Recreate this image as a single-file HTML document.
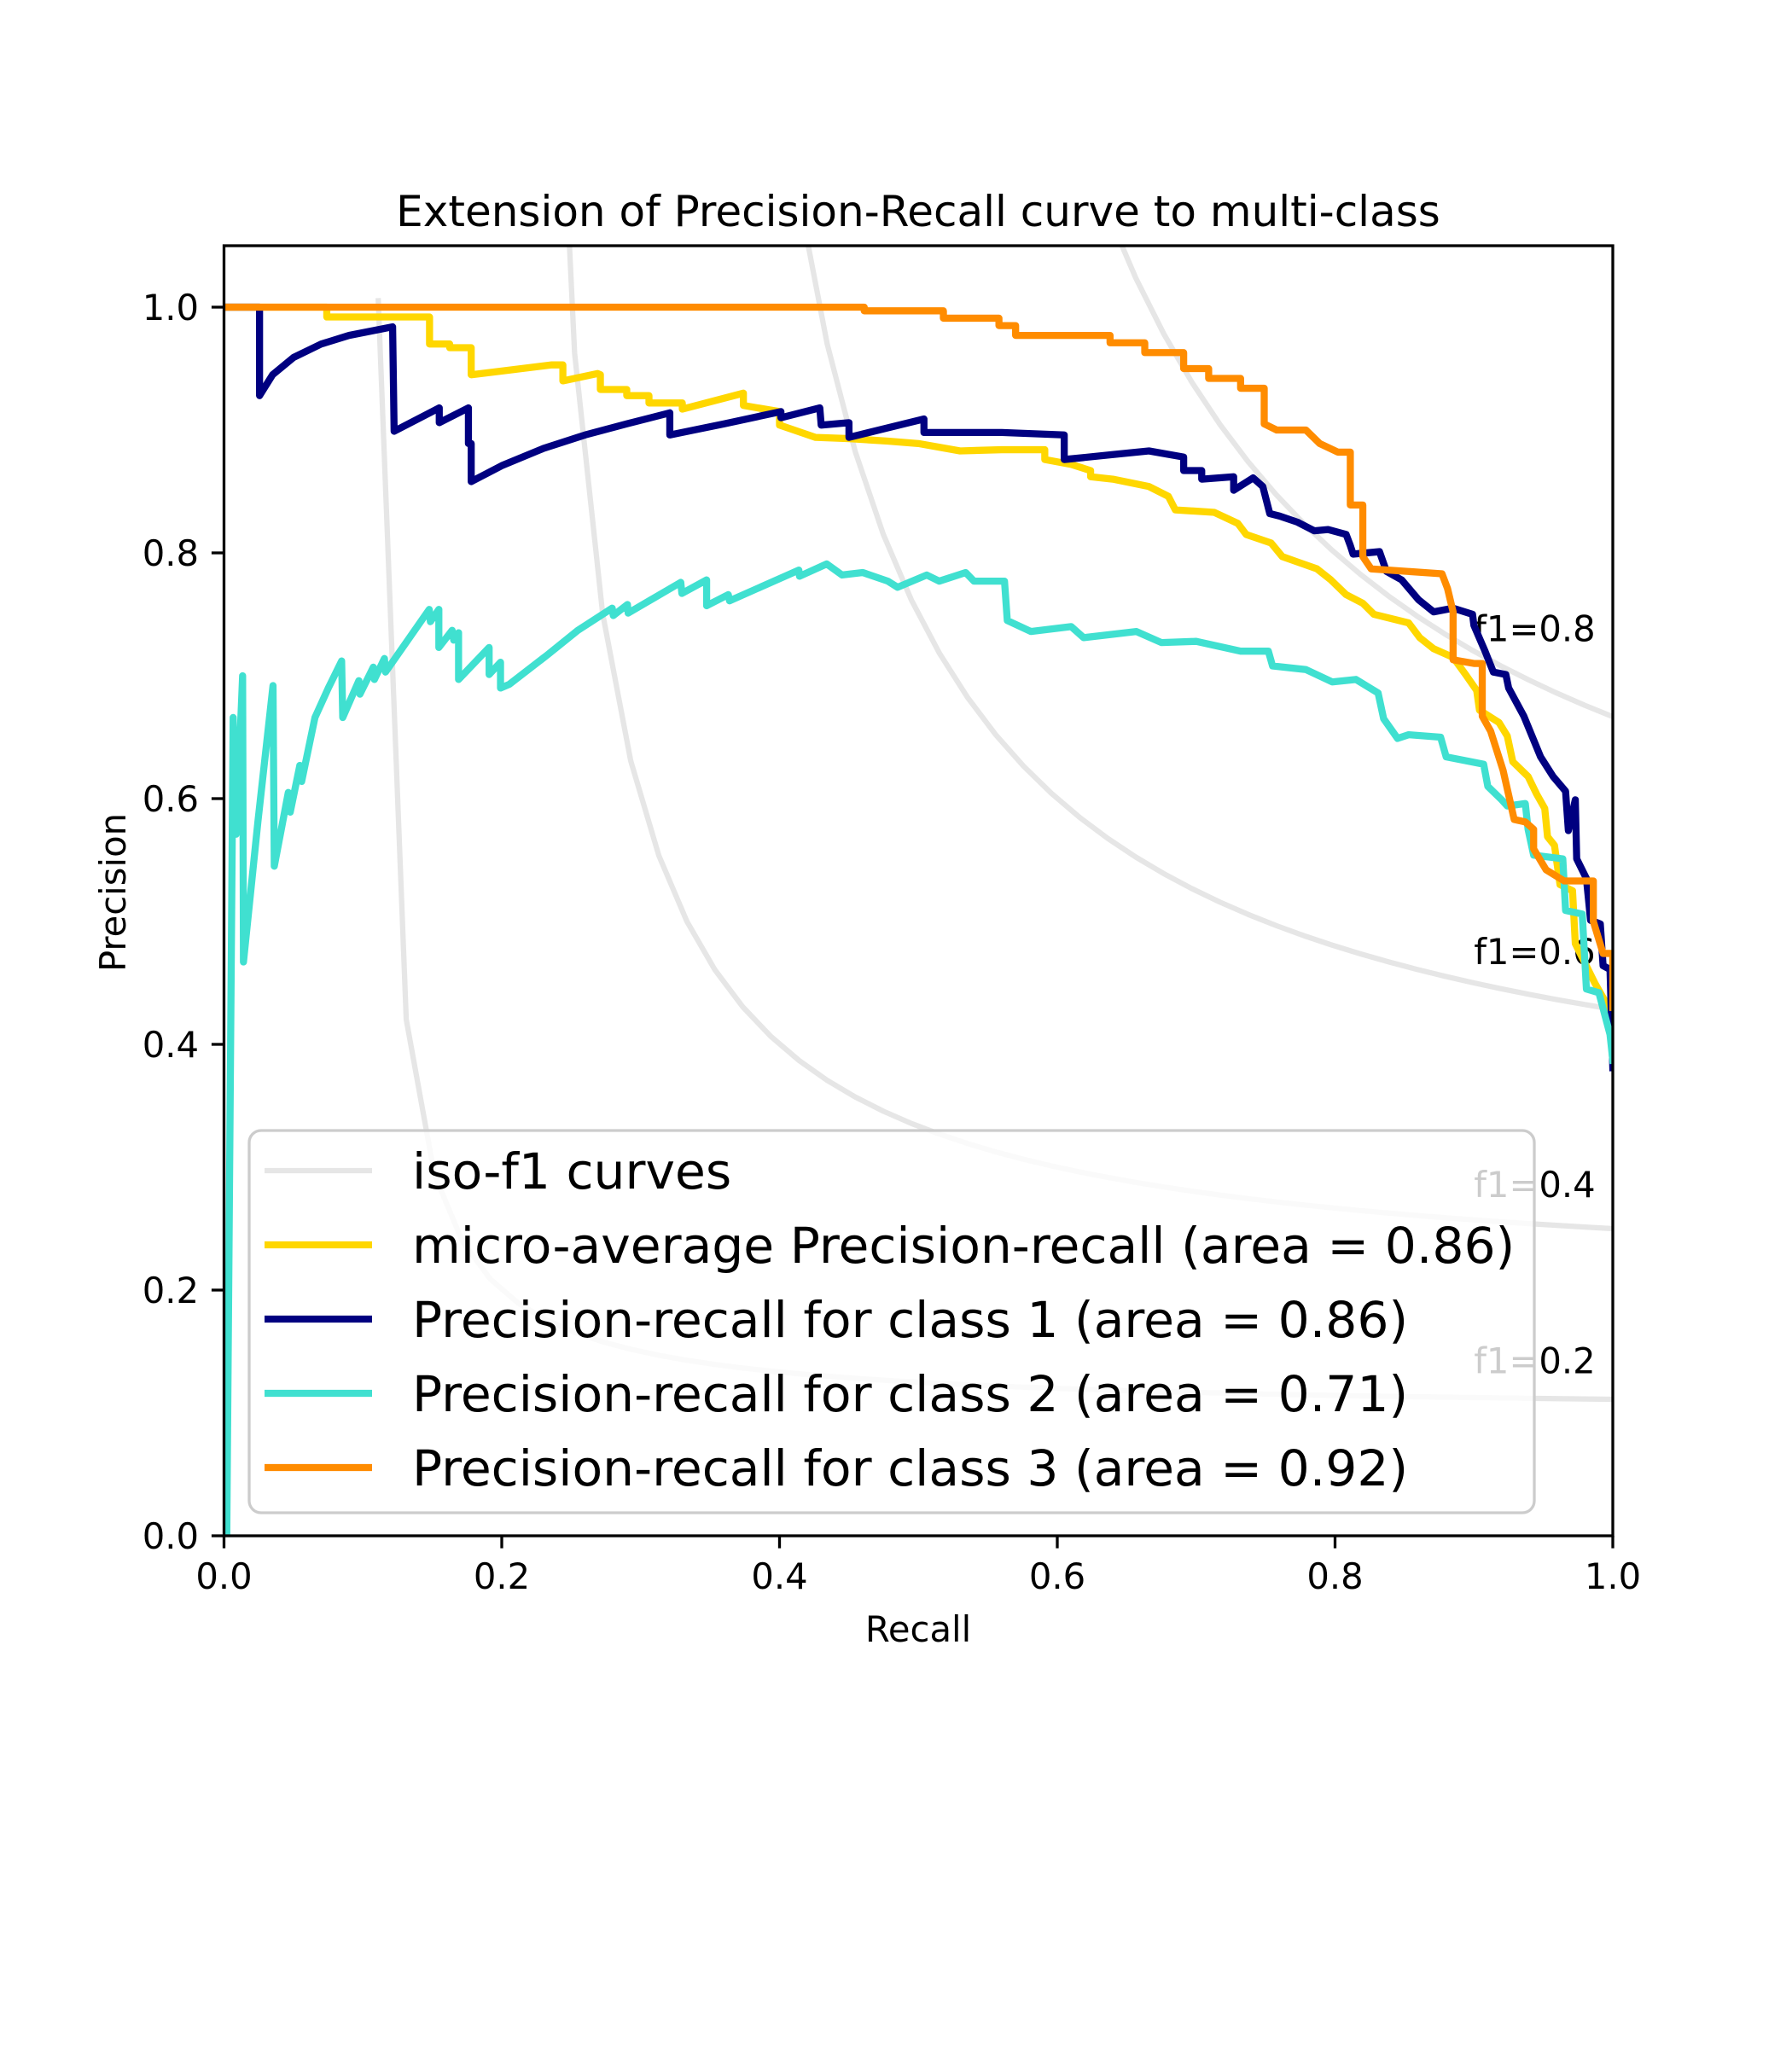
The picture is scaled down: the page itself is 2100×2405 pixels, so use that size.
<!DOCTYPE html>
<html><head><meta charset="utf-8"><style>
html,body{margin:0;padding:0;background:#fff;}
svg text{font-family:"DejaVu Sans","Liberation Sans",sans-serif;}
</style></head><body>
<svg id="chart" xmlns="http://www.w3.org/2000/svg" width="2100" height="2400" viewBox="0 0 2100 2400">
<rect x="0" y="0" width="2100" height="2400" fill="#fff"/>
<defs><clipPath id="plotclip"><rect x="262.5" y="288" width="1627.5" height="1512"/></clipPath></defs>
<text x="1076" y="265" font-size="50" text-anchor="middle">Extension of Precision-Recall curve to multi-class</text>
<g id="iso" clip-path="url(#plotclip)"></g>
<g id="isolabels"></g>
<g id="series" clip-path="url(#plotclip)"></g>
<rect x="262.5" y="288" width="1627.5" height="1512" fill="none" stroke="#000" stroke-width="3.3"/>
<g id="xticks"></g>
<g id="yticks"></g>
<text x="1076" y="1924" font-size="41.7" text-anchor="middle">Recall</text>
<text x="147" y="1046" font-size="41.7" text-anchor="middle" transform="rotate(-90 147 1046)">Precision</text>
<g id="legend">
<rect x="292" y="1325" width="1506" height="448" rx="14" fill="#fff" fill-opacity="0.8" stroke="#cccccc" stroke-width="3.3"/>
</g>
</svg>
<script>
const xTicks = [0.0, 0.2, 0.4, 0.6, 0.8, 1.0];
const yTicks = [0.0, 0.2, 0.4, 0.6, 0.8, 1.0];
const f1Scores = [0.2, 0.4, 0.6, 0.8];
const seriesNames = ["micro-average Precision-recall (area = 0.86)", "Precision-recall for class 1 (area = 0.86)", "Precision-recall for class 2 (area = 0.71)", "Precision-recall for class 3 (area = 0.92)"];
const seriesColors = ["gold", "navy", "turquoise", "darkorange"];
const microRecall = [0,0.074,0.074,0.148,0.148,0.1625,0.1625,0.178,0.178,0.2,0.236,0.244,0.244,0.269,0.271,0.271,0.29,0.29,0.306,0.306,0.33,0.33,0.374,0.374,0.40,0.40,0.426,0.45,0.478,0.5,0.53,0.56,0.591,0.591,0.61,0.624,0.624,0.64,0.666,0.68,0.685,0.713,0.73,0.736,0.754,0.762,0.787,0.797,0.808,0.82,0.828,0.853,0.861,0.871,0.885,0.894,0.902,0.904,0.918,0.924,0.928,0.939,0.945,0.951,0.953,0.958,0.962,0.971,0.973,0.987,0.996,1.0];
const microPrecision = [1,1,0.992,0.992,0.970,0.970,0.967,0.967,0.945,0.948,0.953,0.953,0.940,0.946,0.945,0.933,0.933,0.928,0.928,0.922,0.922,0.917,0.930,0.920,0.915,0.904,0.894,0.893,0.891,0.889,0.883,0.884,0.884,0.876,0.872,0.867,0.862,0.860,0.854,0.846,0.835,0.833,0.824,0.815,0.808,0.797,0.787,0.778,0.766,0.759,0.750,0.743,0.731,0.722,0.715,0.701,0.688,0.672,0.662,0.651,0.630,0.618,0.604,0.592,0.569,0.562,0.530,0.525,0.482,0.450,0.432,0.40];
const class1Recall = [0,0.0256,0.0256,0.035,0.05,0.07,0.09,0.1214,0.1225,0.155,0.155,0.176,0.176,0.178,0.178,0.20,0.23,0.26,0.29,0.321,0.321,0.36,0.401,0.401,0.429,0.43,0.45,0.45,0.504,0.504,0.53,0.56,0.605,0.605,0.64,0.666,0.691,0.691,0.704,0.704,0.727,0.727,0.741,0.748,0.753,0.76,0.773,0.785,0.795,0.808,0.811,0.813,0.832,0.837,0.848,0.86,0.871,0.885,0.899,0.9,0.908,0.914,0.923,0.925,0.936,0.948,0.957,0.966,0.968,0.973,0.974,0.981,0.984,0.991,0.993,0.998,1.0];
const class1Precision = [1,1,0.928,0.945,0.959,0.970,0.977,0.984,0.899,0.918,0.906,0.918,0.889,0.889,0.858,0.871,0.885,0.896,0.905,0.914,0.896,0.905,0.915,0.910,0.918,0.904,0.906,0.894,0.909,0.898,0.898,0.898,0.896,0.876,0.88,0.883,0.878,0.867,0.867,0.86,0.862,0.851,0.861,0.854,0.832,0.83,0.825,0.818,0.819,0.815,0.806,0.799,0.801,0.785,0.778,0.762,0.752,0.755,0.75,0.741,0.72,0.703,0.701,0.69,0.667,0.634,0.618,0.606,0.574,0.599,0.551,0.535,0.501,0.498,0.464,0.461,0.381];
const class2Recall = [0.002,0.0066,0.0087,0.0134,0.014,0.0244,0.0353,0.0362,0.0463,0.0477,0.0546,0.0559,0.0655,0.0751,0.0847,0.0855,0.0971,0.0979,0.1075,0.1083,0.1155,0.1163,0.1478,0.1486,0.1547,0.1547,0.1643,0.1654,0.1689,0.1689,0.1909,0.1909,0.1991,0.1991,0.2054,0.2329,0.2548,0.2795,0.2803,0.2905,0.291,0.3289,0.3297,0.3475,0.3475,0.3631,0.364,0.4139,0.4144,0.434,0.445,0.46,0.478,0.485,0.506,0.515,0.534,0.54,0.562,0.564,0.581,0.61,0.619,0.657,0.675,0.70,0.732,0.752,0.755,0.779,0.798,0.815,0.831,0.835,0.845,0.853,0.876,0.88,0.907,0.91,0.92,0.924,0.937,0.939,0.943,0.964,0.966,0.978,0.981,0.99,0.998,1.0];
const class2Precision = [0.0,0.666,0.571,0.700,0.467,0.581,0.692,0.545,0.605,0.589,0.627,0.614,0.666,0.690,0.712,0.666,0.696,0.685,0.707,0.697,0.714,0.703,0.754,0.744,0.754,0.723,0.737,0.729,0.735,0.697,0.723,0.701,0.711,0.690,0.693,0.717,0.737,0.755,0.749,0.758,0.751,0.776,0.767,0.778,0.757,0.766,0.761,0.786,0.781,0.791,0.782,0.784,0.777,0.772,0.782,0.777,0.784,0.777,0.777,0.745,0.736,0.74,0.731,0.736,0.727,0.728,0.72,0.72,0.708,0.705,0.695,0.697,0.686,0.665,0.649,0.652,0.650,0.634,0.628,0.61,0.599,0.594,0.596,0.575,0.554,0.551,0.509,0.506,0.445,0.442,0.408,0.387];
const class3Recall = [0,0.461,0.461,0.518,0.518,0.558,0.558,0.570,0.570,0.638,0.638,0.663,0.663,0.691,0.691,0.709,0.709,0.732,0.732,0.749,0.749,0.758,0.779,0.789,0.802,0.811,0.811,0.820,0.820,0.826,0.877,0.881,0.885,0.885,0.900,0.906,0.906,0.912,0.921,0.929,0.937,0.943,0.943,0.952,0.965,0.986,0.986,0.993,1.0,1.0];
const class3Precision = [1,1,0.997,0.997,0.991,0.991,0.985,0.985,0.977,0.977,0.971,0.971,0.963,0.963,0.950,0.950,0.942,0.942,0.934,0.934,0.905,0.900,0.900,0.889,0.882,0.882,0.839,0.839,0.797,0.787,0.783,0.771,0.752,0.713,0.710,0.710,0.667,0.655,0.623,0.583,0.581,0.575,0.559,0.542,0.533,0.533,0.500,0.474,0.474,0.43];

const NS = "http://www.w3.org/2000/svg";
const X0 = 262.5, X1 = 1890, Y0 = 1800, YTOP = 288, YMAX = 1.05;
function sx(v){ return X0 + v * (X1 - X0); }
function sy(v){ return Y0 - v / YMAX * (Y0 - YTOP); }
function mk(tag, attrs, parent){
  const e = document.createElementNS(NS, tag);
  for (const k in attrs) e.setAttribute(k, attrs[k]);
  parent.appendChild(e);
  return e;
}
function pts(xs, ys){ return xs.map((x,i)=>sx(x).toFixed(2)+","+sy(ys[i]).toFixed(2)).join(" "); }

const isoG = document.getElementById("iso");
const isoL = document.getElementById("isolabels");
f1Scores.forEach(f => {
  const xs = [], ys = [];
  for (let i = 0; i < 50; i++) {
    const x = 0.01 + i * 0.99 / 49;
    const y = f * x / (2 * x - f);
    if (y >= 0) { xs.push(x); ys.push(y); }
  }
  const pl = mk("polyline", {points: pts(xs, ys), fill: "none", stroke: "#e6e6e6", "stroke-width": 6.25, "stroke-linejoin": "round"}, isoG);
  
  
  const y45 = f * (0.01 + 45*0.99/49) / (2*(0.01 + 45*0.99/49) - f);
  const t = mk("text", {x: sx(0.9), y: sy(y45 + 0.02), "font-size": 41.7}, isoL);
  t.textContent = "f1=" + f.toFixed(1);
  
  
});

const sG = document.getElementById("series");
const allR = [microRecall, class1Recall, class2Recall, class3Recall];
const allP = [microPrecision, class1Precision, class2Precision, class3Precision];
const sNames = ["micro-average-line", "class-1-line", "class-2-line", "class-3-line"];
allR.forEach((r, i) => {
  const pl = mk("polyline", {points: pts(r, allP[i]), fill: "none", stroke: seriesColors[i], "stroke-width": 8.3, "stroke-linejoin": "round", "stroke-linecap": "square"}, sG);
  
  
});

const xg = document.getElementById("xticks");
xTicks.forEach(v => {
  const l = mk("line", {x1: sx(v), x2: sx(v), y1: Y0, y2: Y0 + 14.6, stroke: "#000", "stroke-width": 3.3}, xg);
  
  
  const t = mk("text", {x: sx(v), y: 1862, "font-size": 41.7, "text-anchor": "middle"}, xg);
  t.textContent = v.toFixed(1);
  
  
});
const yg = document.getElementById("yticks");
yTicks.forEach(v => {
  const l = mk("line", {x1: X0 - 14.6, x2: X0, y1: sy(v), y2: sy(v), stroke: "#000", "stroke-width": 3.3}, yg);
  
  
  const t = mk("text", {x: 233, y: sy(v) + 15, "font-size": 41.7, "text-anchor": "end"}, yg);
  t.textContent = v.toFixed(1);
  
  
});

const lg = document.getElementById("legend");
const legLabels = ["iso-f1 curves"].concat(seriesNames);
const legColors = ["#e6e6e6"].concat(seriesColors);
legLabels.forEach((lab, i) => {
  const cy = 1372 + i * 87;
  const l = mk("line", {x1: 310, x2: 436, y1: cy, y2: cy, stroke: legColors[i], "stroke-width": i === 0 ? 6.25 : 8.3}, lg);
  
  
  const t = mk("text", {x: 483, y: cy + 21, "font-size": 58.3}, lg);
  t.textContent = lab;
  
  
});
</script>
</body></html>
